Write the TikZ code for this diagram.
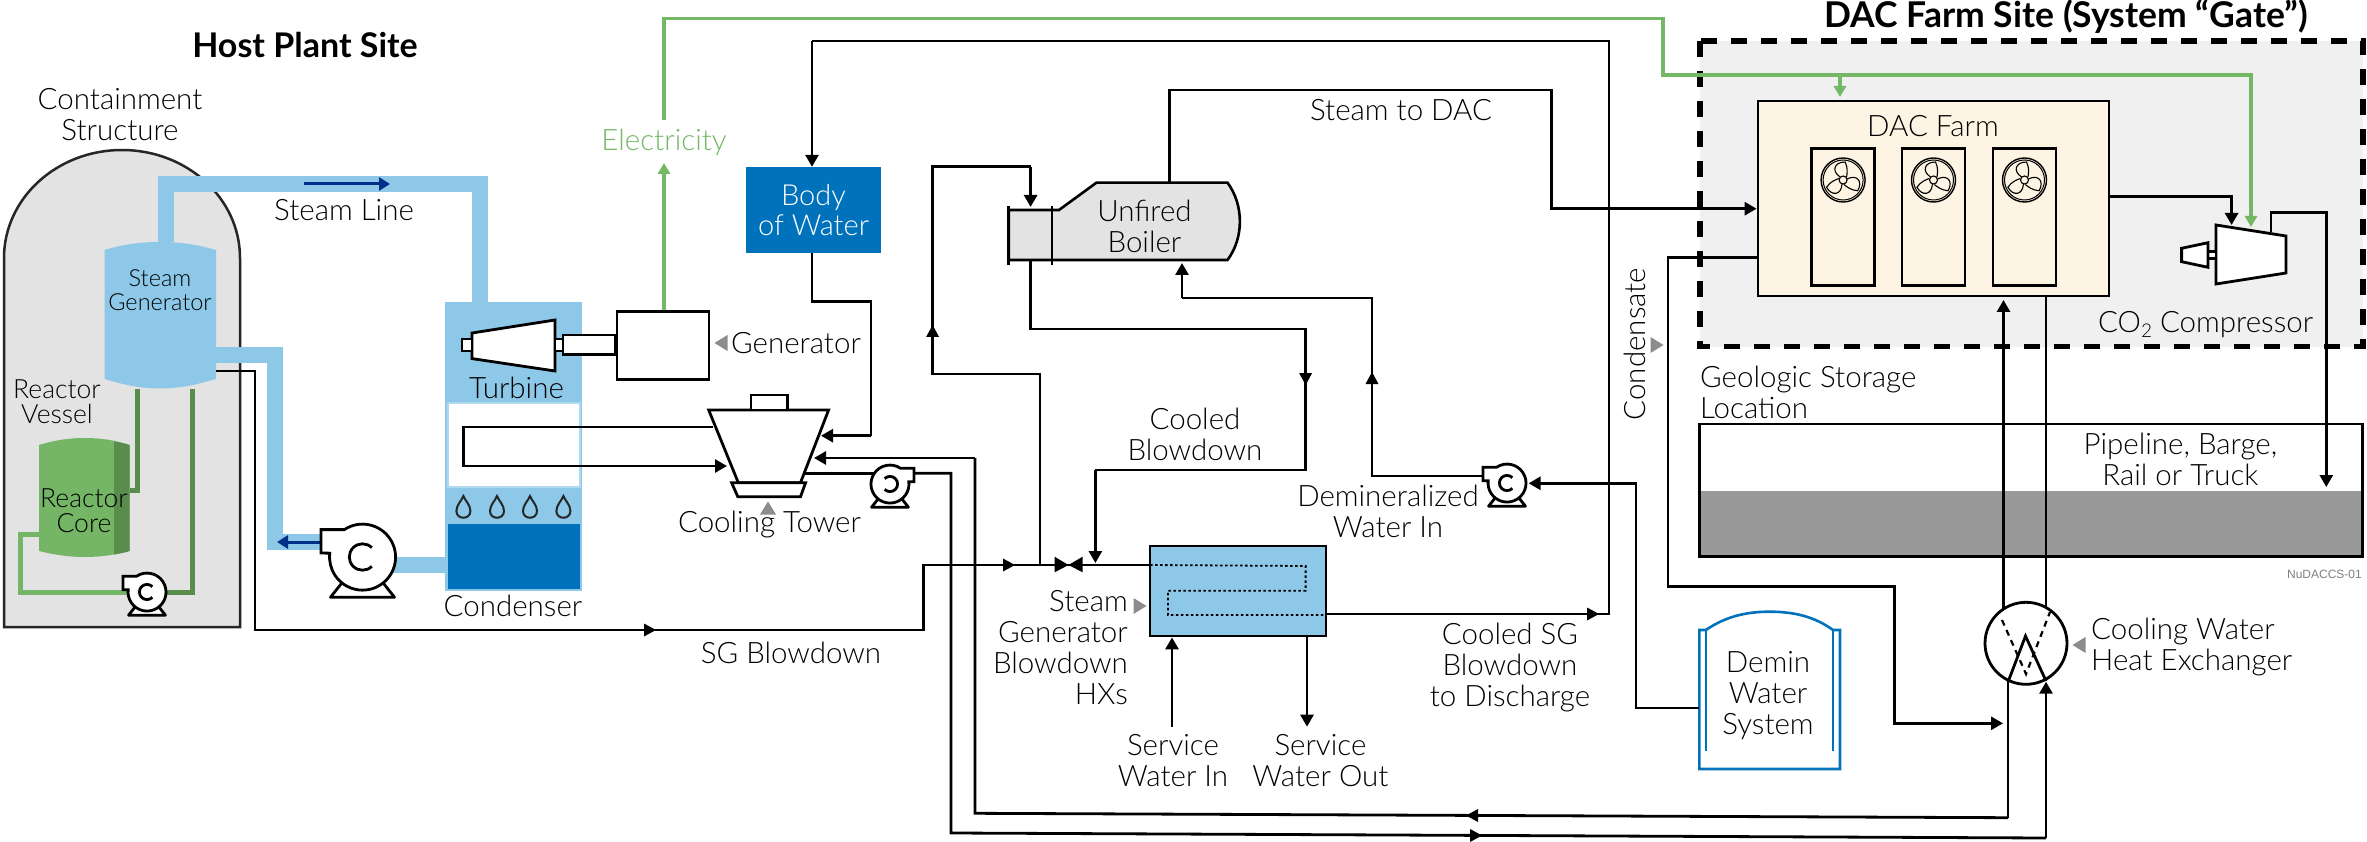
\documentclass[tikz,border=0pt]{standalone}
\usepackage{fontspec}
\setmainfont{Lato}[UprightFont={* Light},BoldFont={* Bold}]
\newfontfamily\tagfont{Liberation Sans}
\usetikzlibrary{arrows.meta}
\definecolor{steamblue}{HTML}{8DC8E8}
\definecolor{deepblue}{HTML}{0072BC}
\definecolor{navyflow}{HTML}{003087}
\definecolor{elecgreen}{HTML}{74B765}
\definecolor{coregreen}{HTML}{75B666}
\definecolor{darkgreen}{HTML}{5A8C4E}
\definecolor{shellgray}{HTML}{E3E3E3}
\definecolor{zonegray}{HTML}{F0F0F0}
\definecolor{dacyellow}{HTML}{FDF4E3}
\definecolor{rockgray}{HTML}{999999}
\definecolor{pointergray}{HTML}{8C8C8C}
\tikzset{
  lab/.style={inner sep=0pt,align=center,font=\fontsize{29.5}{31}\selectfont,text=black},
  titlelab/.style={inner sep=0pt,font=\bfseries,text=black},
  pipe/.style={draw=black,line width=2.8pt,line join=miter},
  flow/.style={pipe,-{Triangle[length=12pt,width=13pt]}},
  elec/.style={draw=elecgreen,line width=3.2pt,-{Triangle[length=11pt,width=12pt]}},
  elecplain/.style={draw=elecgreen,line width=3.2pt},
  band/.style={draw=steamblue,line width=16pt,line join=miter},
  box/.style={inner sep=0pt,draw=black,line width=2.8pt},
  ghost/.style={inner sep=0pt},
  pump/.pic={
    \draw[fill=white,line width=2.8pt,line join=round] (-0.97,1.22)--(0.97,1.22)--(0.62,0.78)--(-0.62,0.78)--cycle;
    \draw[fill=white,line width=2.8pt,line join=miter] (-1.26,-0.83)--(-0.55,-0.83) arc[start angle=236.5,end angle=546.9,radius=1]--(-1.26,-0.12)--cycle;
    \draw[line width=2.8pt] (0.283,0.283) arc[start angle=45,end angle=315,radius=0.4];
  },
  drop/.pic={
    \draw[line width=2pt,draw=black!85] (0,-11) .. controls (2,-6) and (7,-2) .. (7,4) .. controls (7,13) and (-7,13) .. (-7,4) .. controls (-7,-2) and (-2,-6) .. cycle;
  },
  fanwheel/.pic={
    \draw[line width=1.4pt] (0,0) circle[radius=22];
    \draw[line width=1pt] (0,0) circle[radius=20];
    \draw[line width=1.1pt] (0,0) circle[radius=4];
    \foreach \a in {0,120,240}{
      \draw[line width=1.1pt,rotate=\a] (-3,-3) .. controls (-12,-9) and (-9,-18) .. (2,-18) .. controls (5,-12) and (4,-7) .. (3.5,-3);
    }
  },
}
\newcommand{\tipat}[3]{\fill[black,shift={(#1,#2)},rotate=#3] (6,0)--(-6,-6.5)--(-6,6.5)--cycle;}
\newcommand{\pointer}[3]{\fill[pointergray,shift={(#1,#2)},rotate=#3] (6.5,0)--(-6.5,-8)--(-6.5,8)--cycle;}
\begin{document}
\begin{tikzpicture}[x=1pt,y=-1pt]
\useasboundingbox (0,0) rectangle (2367,842);
\fill[white] (0,0) rectangle (2367,842);

% ---- containment
\draw[fill=shellgray,draw=black!85,line width=2.5pt] (4,627)--(4,258) arc[start angle=180,end angle=360,x radius=118,y radius=108]--(240,627)--cycle;

% named anchors
\node[ghost,minimum width=111.5pt,minimum height=146.5pt] (sg) at (160.25,315.25) {};
\node[ghost,minimum width=90.5pt,minimum height=119pt] (core) at (84.25,497.5) {};
\node[ghost,minimum width=136.5pt,minimum height=288.5pt] (plant) at (513.75,446.75) {};
\node[box,minimum width=92pt,minimum height=68pt] (gen) at (663,345.5) {};
\coordinate (rpump) at (147,592);
\coordinate (mpump) at (362.5,557);
\coordinate (tpump) at (890,484);
\coordinate (dpump) at (1507,483);

% ---- primary loop green lines
\draw[draw=darkgreen,line width=5pt,line join=miter] (sg.south -| 137.5,0) -- (137.5,490) -- (core.east |- 0,490);
\draw[draw=darkgreen,line width=5pt,line join=miter] (sg.south -| 192,0) -- (192,592) -- (rpump);
\draw[draw=coregreen,line width=5pt,line join=miter] (core.west |- 0,534) -- (20,534) -- (20,592) -- (rpump);

% ---- core
\fill[coregreen] (39,445) .. controls (55,440) and (70,438) .. (84,438) .. controls (100,438) and (115,440) .. (129.5,445) -- (129.5,551) .. controls (115,555) and (100,557) .. (84,557) .. controls (70,557) and (55,555) .. (39,551) -- cycle;
\fill[darkgreen] (114,441.5) .. controls (120,442.5) and (125,443.5) .. (129.5,445) -- (129.5,551) .. controls (125,552.5) and (120,553.5) .. (114,554.5) -- cycle;

% ---- secondary bands
\draw[band] (sg.north -| 165.5,0) -- (165.5,184) -- (480,184) -- (480,303);
\draw[band] (sg.east |- 0,355) -- (274.5,355) -- (274.5,542) -- (325,542);
\draw[band] (mpump) ++(30,8) -- (plant.west |- 0,565);

% ---- steam generator
\fill[steamblue] (104.5,250) .. controls (125,244) and (140,242) .. (160,242) .. controls (180,242) and (195,244) .. (216,250) -- (216,379) .. controls (195,385) and (180,388.5) .. (160,388.5) .. controls (140,388.5) and (125,385) .. (104.5,379) -- cycle;
\node[lab,font=\fontsize{23.5}{24.5}\selectfont] (sglab) at (160,290) {Steam\\Generator};
\node[lab,font=\fontsize{26.5}{25}\selectfont] (rvlab) at (57,402) {Reactor\\Vessel};
\node[lab,font=\fontsize{26.5}{25}\selectfont] (corelab) at (84,510.5) {Reactor\\Core};

% steam arrows
\draw[draw=navyflow,line width=3pt,-{Triangle[length=11pt,width=13pt]}] (304,184) -- (390,184);
\draw[draw=navyflow,line width=3pt,-{Triangle[length=11pt,width=13pt]}] (322,542) -- (277,542);

% ---- plant column
\fill[steamblue] (plant.north west) rectangle (plant.south east);
\draw[fill=white,draw=steamblue!70,line width=2pt] (447.5,403) rectangle (580,486.5);
\fill[deepblue] (448,524) rectangle (579.5,589);
\foreach \dx in {463.4,497,530,563.4}{ \pic at (\dx,507) {drop}; }

% turbine
\draw[pipe,fill=white] (472,333)--(555,320)--(555,371)--(472,358.6)--cycle;
\draw[pipe,fill=white] (462,339) rectangle (472,351);
\draw[pipe,fill=white] (555,339) rectangle (563,351);
\draw[pipe,fill=white] (563,335) rectangle (gen.west |- 0,354.5);
\node[box,minimum width=92pt,minimum height=68pt] (gen2) at (663,345.5) {};
\node[lab] (turblab) at (516.5,388) {Turbine};
\node[lab] (condlab) at (513,606) {Condenser};

% big pump
\pic[scale=33] at (mpump) {pump};
\pic[scale=19] at (rpump) {pump};

% ---- SG blowdown
\coordinate (hxin) at (1150,565);
\draw[pipe] (sg.east |- 0,371) -- (255,371) -- (255,630) -- (923.5,630) -- (923.5,565) -- (hxin);
\tipat{650}{630}{0}
\tipat{1009}{565}{0}
\fill (1054.6,556.7)--(1068.5,565)--(1054.6,572.3)--cycle;
\fill (1082.6,556.7)--(1068.5,565)--(1082.6,572.3)--cycle;

% ---- labels left
\node[titlelab,font=\fontsize{34}{38}\selectfont\bfseries] (hostlab) at (305,45) {Host Plant Site};
\node[lab] (contlab) at (120,115) {Containment\\Structure};
\node[lab] (steamlinelab) at (344,210) {Steam Line};
\node[lab,text=elecgreen] (eleclab) at (664,142) {Electricity};
\node[lab,anchor=west] (genlab) at (731,343) {Generator};
\pointer{721}{343}{180}
\node[lab] (ctlab) at (769.5,525) {Cooling Tower};
\pointer{768}{508}{90}
\node[lab] (sgblab) at (791,653) {SG Blowdown};

% ---- DAC zone
\fill[zonegray] (1700,41) rectangle (2363,346.7);
\draw[line width=5.5pt,dash pattern=on 16pt off 14pt] (1700,41) rectangle (2363,346.7);
\node[titlelab,font=\fontsize{35.5}{38}\selectfont\bfseries] (daclab) at (2066,17) {DAC Farm Site (System “Gate”)};

% ---- Demin tank
\node[ghost,minimum width=140.6pt,minimum height=157.3pt] (tank) at (1769.7,690.35) {};
\draw[draw=deepblue,line width=2.6pt] (1699.4,630)--(1705.8,630) .. controls (1725,617) and (1745,611.7) .. (1769.5,611.7) .. controls (1795,611.7) and (1815,617) .. (1833,630)--(1840,630)--(1840,769)--(1699.4,769)--cycle;
\draw[draw=deepblue,line width=2.6pt] (1705.8,630)--(1705.8,751);
\draw[draw=deepblue,line width=2.6pt] (1833,630)--(1833,751);
\node[lab] (tanklab) at (1768,696) {Demin\\Water\\System};

% ---- Geologic storage
\node[box,fill=white,minimum width=663pt,minimum height=132.7pt] (geo) at (2030.9,490.35) {};
\fill[rockgray] (1700.8,490.7) rectangle (2361,555.3);
\node[lab,align=left,anchor=west] (geolab) at (1700,392.5) {Geologic Storage\\Location};
\node[lab] (pipelab) at (2180.4,459) {Pipeline, Barge,\\Rail or Truck};
\node[inner sep=0pt,font=\fontsize{12}{14}\selectfont\tagfont,text=black!50,anchor=east] (taglab) at (2362,574) {NuDACCS-01};

% ---- DAC farm
\node[box,fill=dacyellow,minimum width=351pt,minimum height=195pt] (farm) at (1933.5,198.5) {};
\node[lab] (farmlab) at (1933,126) {DAC Farm};
\foreach \nm/\cx in {p1/1843.1,p2/1933.5,p3/2024.5}{
  \node[box,minimum width=63pt,minimum height=137.4pt] (\nm) at (\cx,217) {};
  \pic at (\cx,180) {fanwheel};
}

% ---- Boiler
\node[ghost,minimum width=231.3pt,minimum height=77.3pt] (boiler) at (1124.35,221.35) {};
\draw[pipe,fill=shellgray,line width=2.6pt] (1052,210)--(1059,210)--(1096.4,182.7)--(1227.5,182.7) .. controls (1244,205) and (1244,238) .. (1227.5,260)--(1008.7,260)--(1008.7,210)--cycle;
\draw[pipe,line width=2.6pt] (1008.7,205.7)--(1008.7,265);
\draw[pipe,line width=2.6pt] (1052,205.7)--(1052,265);
\node[lab] (boilerlab) at (1144.5,226) {Unfired\\Boiler};

% ---- Body of water
\node[fill=deepblue,inner sep=0pt,minimum width=134.2pt,minimum height=86pt,align=center,text=white,font=\fontsize{29}{30}\selectfont] (bow) at (813.5,210) {Body\\of Water};

% ---- HX
\node[box,fill=steamblue,minimum width=176pt,minimum height=90pt] (hx) at (1238,591) {};
\draw[line width=1.8pt,dash pattern=on 2.5pt off 2.5pt] (hxin)--(1305.6,566)--(1305.6,590.7)--(1168,590.7)--(1168,615)--(1325,615);

% ---- cooling tower feeds
\draw[pipe] (713,427) -- (463.4,427) -- (463.4,466) -- (700,466);
\draw[flow] (463.4,466) -- (727,466);
\draw[pipe] (bow.south -| 812,0) -- (812,301.7) -- (871,301.7) -- (871,435.7);
\draw[flow] (871,435.7) -- (821,435.7);

% pipes to pump and back
\draw[flow] (975,458) -- (814,458);
\draw[pipe] (2008,817.7) -- (975,813.3) -- (975,458);
\tipat{1472}{815.5}{180}
\draw[pipe] (803,473.3) -- (tpump |- 0,473.3);
\draw[pipe] (tpump |- 0,473.3) -- (951,473.3) -- (951,833) -- (2046,838);
\tipat{1476}{835.5}{0}

% cooling tower
\draw[pipe,fill=white] (708.7,410)--(828.6,410)--(800.5,482.7)--(738.3,482.7)--cycle;
\draw[pipe,fill=white] (751,395) rectangle (787.8,410);
\draw[pipe,fill=white] (731.6,482.7)--(805.6,482.7)--(800.5,496.7)--(737.8,496.7)--cycle;
\pic[xscale=-19,yscale=19] at (tpump) {pump};

% ---- boiler connections
\draw[pipe] (hxin -| 1040,0) -- (1040,374) -- (932.6,374) -- (932.6,166.7) -- (1030.6,166.7);
\draw[flow] (1030.6,166.7) -- (1030.6,207);
\tipat{932.6}{331}{90}
\draw[pipe] (1030.6,260) -- (1030.6,329) -- (1305.6,329) -- (1305.6,470) -- (1095.4,470);
\draw[flow] (1095.4,470) -- (1095.4,563);
\tipat{1305.6}{379}{270}
\draw[pipe] (dpump |- 0,476) -- (1372,476) -- (1372,298) -- (1182,298);
\draw[flow] (1182,298) -- (1182,263);
\tipat{1372}{378}{90}

% demin feed
\draw[flow] (tank.west |- 0,708) -- (1636,708) -- (1636,483.3) -- (1528.6,483.3);
\pic[scale=19] at (dpump) {pump};

% HX out
\draw[pipe] (hx.east |- 0,614) -- (1609,614) -- (1609,41) -- (812,41);
\draw[flow] (812,41) -- (bow.north -| 812,0);
\tipat{1593}{614}{0}
\draw[flow] (1172,726.7) -- (hx.south -| 1172,0);
\draw[flow] (hx.south -| 1307,0) -- (1307,726.7);

% steam to DAC
\draw[flow] (boiler.north -| 1169.4,0) -- (1169.4,90) -- (1551.5,90) -- (1551.5,208.7) -- (farm.west |- 0,208.7);

% condensate
\draw[flow] (farm.west |- 0,257.7) -- (1668,257.7) -- (1668,586.7) -- (1894.6,586.7) -- (1894.6,723.3) -- (2003,723.3);
\node[lab,rotate=90] (condensatelab) at (1635,344) {Condensate};
\pointer{1657}{345}{0}

% compressor
\draw[flow] (farm.east |- 0,196.7) -- (2231.6,196.7) -- (2231.6,225);
\draw[pipe] (2271,232) -- (2271,212.3) -- (2326.3,212.3) -- (2326.3,440);
\draw[flow] (2326.3,440) -- (2326.3,487);
\draw[pipe,fill=white] (2216,225)--(2286,236)--(2286,273)--(2216,284)--cycle;
\draw[pipe,fill=white] (2207.6,251.7) rectangle (2216,258.3);
\draw[pipe,fill=white] (2181.6,248.3)--(2208,242.7)--(2208,267.3)--(2181.6,261.7)--cycle;
\node[lab] (complab) at (2205.6,325) {CO\raisebox{-0.3ex}{\fontsize{19}{19}\selectfont 2} Compressor};

% electricity
\draw[elec] (gen.north -| 664,0) -- (664,163);
\draw[elecplain] (664,120) -- (664,18.3) -- (1663,18.3) -- (1663,75) -- (1840,75);
\draw[elec] (1840,75) -- (1840,97);
\draw[elec] (1840,75) -- (2251,75) -- (2251,227);

% ---- cooling water HX
\node[draw=black,line width=2.8pt,fill=white,circle,inner sep=0pt,minimum size=82pt] (cwhx) at (2026,643.3) {};
\draw[pipe] (2008,682) -- (2025.5,636) -- (2046,681);
\draw[pipe,line width=2.2pt,dash pattern=on 6pt off 5pt] (2002,620) -- (2026,674) -- (2050,612);
\draw[pipe] (2008,817.7) -- (2008,682);
\draw[flow] (2046,838) -- (2046,681.7);
\draw[flow] (2003.5,609) -- (2003.5,300);
\draw[pipe] (2046,296) -- (2046,608);
\node[lab,align=left,anchor=west] (cwlab) at (2091,647.5) {Cooling Water\\Heat Exchanger};
\pointer{2079}{645}{180}

% ---- HX labels
\node[lab] (cbdlab) at (1195,434) {Cooled\\Blowdown};
\node[lab] (dwlab) at (1388,511.5) {Demineralized\\Water In};
\node[lab,align=right,anchor=east] (sgbhlab) at (1128,647.5) {Steam\\Generator\\Blowdown\\HXs};
\pointer{1140}{606}{0}
\node[lab] (cslab) at (1510,667.5) {Cooled SG\\Blowdown\\to Discharge};
\node[lab] (swilab) at (1173,760.5) {Service\\Water In};
\node[lab] (swolab) at (1320.4,760.5) {Service\\Water Out};
\node[lab] (stdlab) at (1401,110) {Steam to DAC};
\end{tikzpicture}
\end{document}
